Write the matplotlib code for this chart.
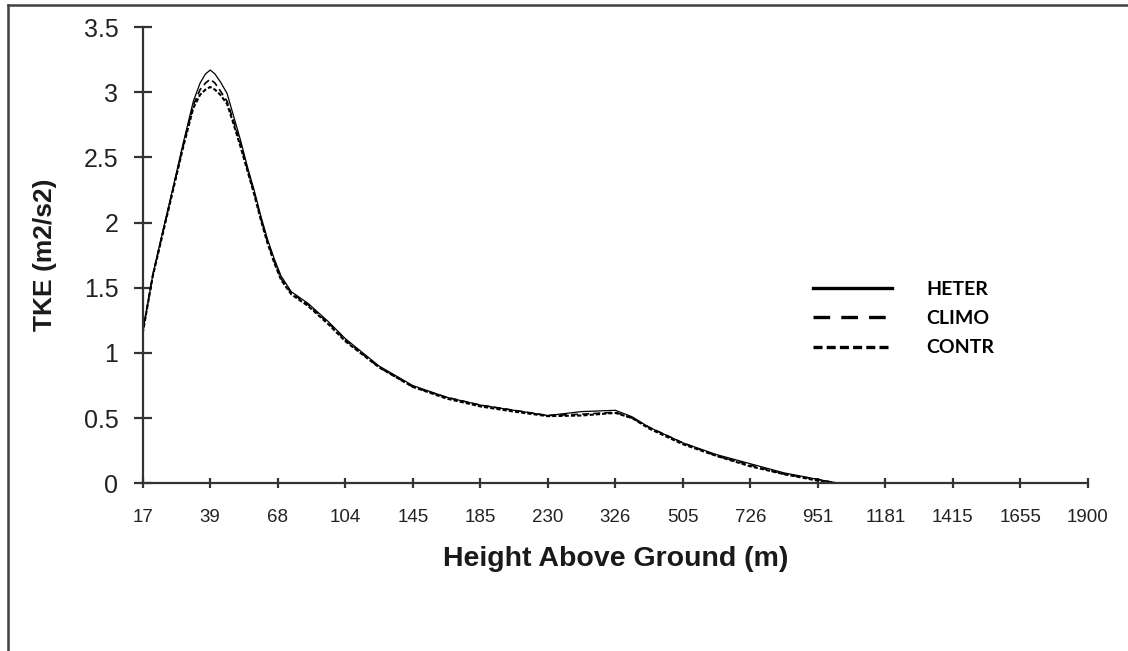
import numpy as np
import matplotlib.pyplot as plt
from matplotlib.lines import Line2D

plt.rcParams['font.family'] = ['Liberation Sans', 'DejaVu Sans']
plt.rcParams['lines.scale_dashes'] = False

# x axis levels (equally spaced categories)
heights = ['17', '39', '68', '104', '145', '185', '230', '326', '505',
           '726', '951', '1181', '1415', '1655', '1900']

# sample positions along the category axis (index units) and TKE values
pos = [0.0, 0.15, 0.3, 0.45, 0.6, 0.75, 0.85, 0.93, 1.0, 1.07, 1.15, 1.25, 1.35, 1.45,
       1.55, 1.65, 1.75, 1.85, 1.95, 2.05, 2.2, 2.45, 2.75, 3.0, 3.5, 4.0,
       4.5, 5.0, 5.5, 6.0, 6.5, 7.0, 7.25, 7.5, 8.0, 8.5, 9.0, 9.5, 10.0, 10.3]
heter = [1.16, 1.60, 1.94, 2.27, 2.61, 2.93, 3.07, 3.14, 3.17, 3.14, 3.08, 2.99, 2.81, 2.63,
         2.43, 2.25, 2.05, 1.87, 1.72, 1.59, 1.47, 1.38, 1.24, 1.11, 0.90, 0.75,
         0.66, 0.60, 0.56, 0.52, 0.55, 0.56, 0.51, 0.43, 0.31, 0.22, 0.15, 0.08, 0.03, 0.0]
climo = [1.16, 1.60, 1.93, 2.26, 2.59, 2.90, 3.02, 3.07, 3.10, 3.07, 3.01, 2.93, 2.77, 2.60,
         2.41, 2.23, 2.03, 1.85, 1.70, 1.57, 1.46, 1.37, 1.23, 1.10, 0.89, 0.74,
         0.66, 0.60, 0.56, 0.52, 0.53, 0.545, 0.50, 0.43, 0.31, 0.21, 0.14, 0.07, 0.03, 0.0]
contr = [1.15, 1.59, 1.92, 2.25, 2.58, 2.88, 2.98, 3.02, 3.04, 3.02, 2.98, 2.91, 2.75, 2.58,
         2.40, 2.22, 2.02, 1.84, 1.69, 1.56, 1.45, 1.36, 1.22, 1.09, 0.89, 0.74,
         0.65, 0.59, 0.55, 0.515, 0.52, 0.54, 0.50, 0.42, 0.30, 0.21, 0.13, 0.07, 0.02, 0.0]

fig = plt.figure(figsize=(11.28, 6.51), dpi=100)
ax = fig.add_axes([0.1265, 0.2576, 0.838, 0.7009])

ax.plot(pos, heter, color='black', lw=0.9)
ax.plot(pos, climo, color='black', lw=1.2, dashes=(5, 3))
ax.plot(pos, contr, color='black', lw=1.5, dashes=(3, 1.5))

ax.set_xlim(0, 14)
ax.set_ylim(0, 3.5)
ax.set_xticks(np.arange(len(heights)))
ax.set_xticklabels(heights)
yt = np.arange(0, 3.51, 0.5)
ax.set_yticks(yt)
ax.set_yticklabels(['0', '0.5', '1', '1.5', '2', '2.5', '3', '3.5'])

for s in ['top', 'right']:
    ax.spines[s].set_visible(False)
for s in ['left', 'bottom']:
    ax.spines[s].set_color('#333333')
    ax.spines[s].set_linewidth(1.6)
ax.tick_params(axis='y', direction='inout', length=13, width=1.6, color='#333333',
               labelsize=18, labelcolor='#222222', pad=11)
ax.tick_params(axis='x', direction='inout', length=7.5, width=1.6, color='#333333',
               labelsize=13.5, labelcolor='#222222', pad=15)

ax.set_xlabel('Height Above Ground (m)', fontsize=20.5, fontweight='bold',
              color='#1a1a1a', labelpad=14)
ax.set_ylabel('TKE (m2/s2)', fontsize=19, fontweight='bold',
              color='#1a1a1a', labelpad=19)

handles = [Line2D([], [], color='black', lw=2.4),
           Line2D([], [], color='black', lw=2.4, dashes=(12, 8)),
           Line2D([], [], color='black', lw=2.4, dashes=(6.5, 3))]
fig.legend(handles, ['HETER', 'CLIMO', 'CONTR'], loc='upper left',
           bbox_to_anchor=(0.7205, 0.568), frameon=False, handlelength=4.1,
           handletextpad=1.75, labelspacing=0.62, borderpad=0, borderaxespad=0,
           prop={'family': 'Lato', 'weight': 'bold', 'size': 14})

# outer frame (top and left edges only visible)
fig.add_artist(Line2D([0.007, 1.0], [0.9925, 0.9925], color='#404040', lw=1.8,
                      transform=fig.transFigure))
fig.add_artist(Line2D([0.0071, 0.0071], [0.0, 0.9925], color='#404040', lw=1.8,
                      transform=fig.transFigure))

fig.savefig('out.png', dpi=100)
